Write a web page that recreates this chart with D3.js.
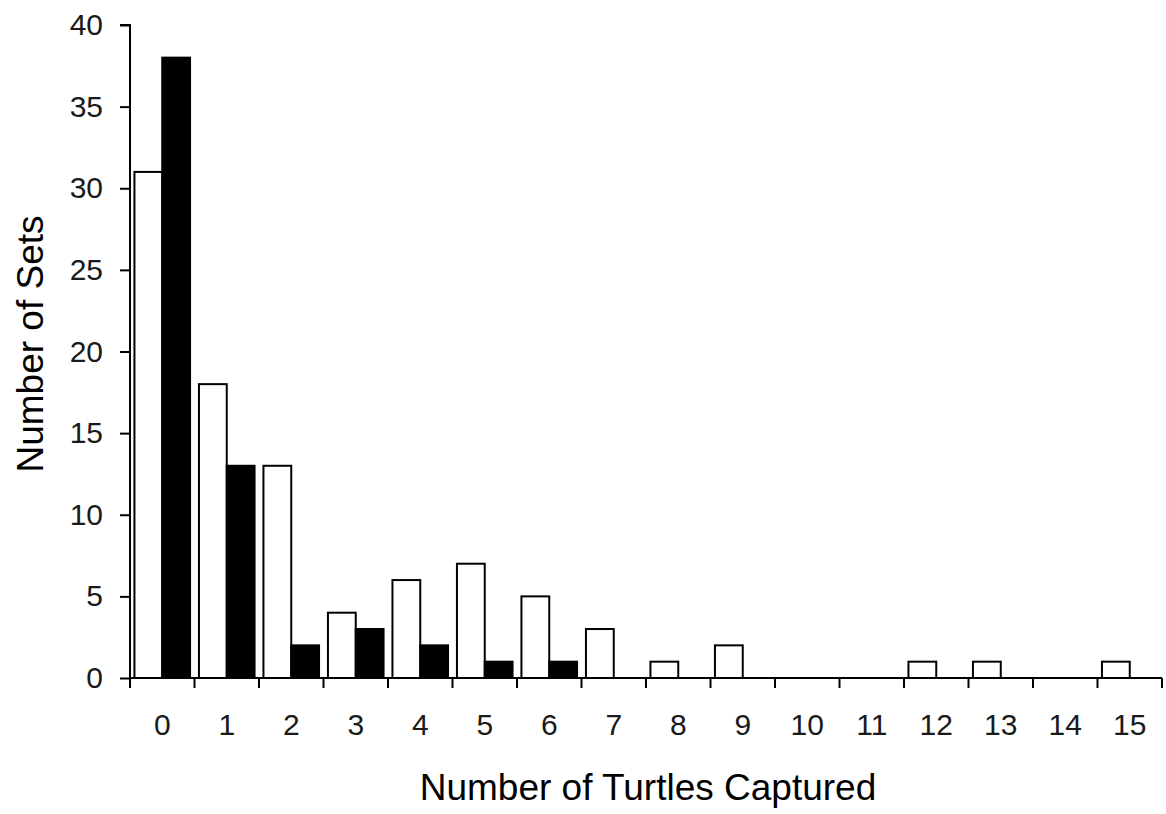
<!DOCTYPE html>
<html><head><meta charset="utf-8">
<script src="https://cdn.jsdelivr.net/npm/d3@7"></script>
<style>body{margin:0;background:#fff}svg{display:block}</style>
</head><body>
<script>
const categories = ["0","1","2","3","4","5","6","7","8","9","10","11","12","13","14","15"];
const seriesWhite = [31,18,13,4,6,7,5,3,1,2,0,0,1,1,0,1];
const seriesBlack = [38,13,2,3,2,1,1,0,0,0,0,0,0,0,0,0];
const yTicks = [0,5,10,15,20,25,30,35,40];
const xTitle = "Number of Turtles Captured";
const yTitle = "Number of Sets";

const W = 1166, H = 814;
const m = {left:130, right:4, top:25, bottom:136};
const svg = d3.select("body").append("svg").attr("width",W).attr("height",H);

const x = d3.scaleBand().domain(categories).range([m.left, W-m.right]).paddingInner(0).paddingOuter(0);
const y = d3.scaleLinear().domain([0,40]).range([H-m.bottom, m.top]);
const inner = d3.scaleBand().domain(["w","b"]).range([0, x.bandwidth()]).paddingInner(0).paddingOuter(0.16);

const font = "'Liberation Sans', Arial, sans-serif";

const g = svg.append("g");
const data = categories.map((c,i)=>({c, w:seriesWhite[i], b:seriesBlack[i]}));

g.selectAll("rect.w").data(data.filter(d=>d.w>0)).enter().append("rect")
  .attr("x", d=>x(d.c)+inner("w")).attr("width", inner.bandwidth())
  .attr("y", d=>y(d.w)).attr("height", d=>y(0)-y(d.w))
  .attr("fill","#fff").attr("stroke","#000").attr("stroke-width",2);
g.selectAll("rect.b").data(data.filter(d=>d.b>0)).enter().append("rect")
  .attr("x", d=>x(d.c)+inner("b")).attr("width", inner.bandwidth())
  .attr("y", d=>y(d.b)).attr("height", d=>y(0)-y(d.b))
  .attr("fill","#000").attr("stroke","#000").attr("stroke-width",2);

const yAxis = d3.axisLeft(y).tickValues(yTicks).tickSize(10).tickPadding(17);
const ya = svg.append("g").attr("transform",`translate(${m.left},0)`).call(yAxis);
ya.select(".domain").attr("stroke","#000").attr("stroke-width",2).attr("d",`M-10,${y(40)}H0V${y(0)}`);
ya.selectAll(".tick line").attr("stroke","#000").attr("stroke-width",2);
ya.selectAll(".tick text").attr("font-family",font).attr("font-size",30).attr("fill","#1a1a1a");

const xa = svg.append("g").attr("transform",`translate(0,${y(0)})`);
xa.append("line").attr("x1",m.left).attr("x2",W-m.right).attr("stroke","#000").attr("stroke-width",2);
const bounds = categories.map(c=>x(c)).concat([x(categories[categories.length-1])+x.bandwidth()]);
xa.selectAll("line.t").data(bounds).enter().append("line")
  .attr("x1",d=>d).attr("x2",d=>d).attr("y1",0).attr("y2",10).attr("stroke","#000").attr("stroke-width",2);
xa.selectAll("text").data(categories).enter().append("text")
  .attr("x",d=>x(d)+x.bandwidth()/2).attr("y",57).attr("text-anchor","middle")
  .attr("font-family",font).attr("font-size",30).attr("fill","#1a1a1a").text(d=>d);

svg.append("text").attr("x",648).attr("y",800).attr("text-anchor","middle")
  .attr("font-family",font).attr("font-size",37).attr("fill","#000").text(xTitle);
svg.append("text").attr("transform","translate(43,344) rotate(-90)").attr("text-anchor","middle")
  .attr("font-family",font).attr("font-size",37).attr("fill","#000").text(yTitle);
</script>
</body></html>
